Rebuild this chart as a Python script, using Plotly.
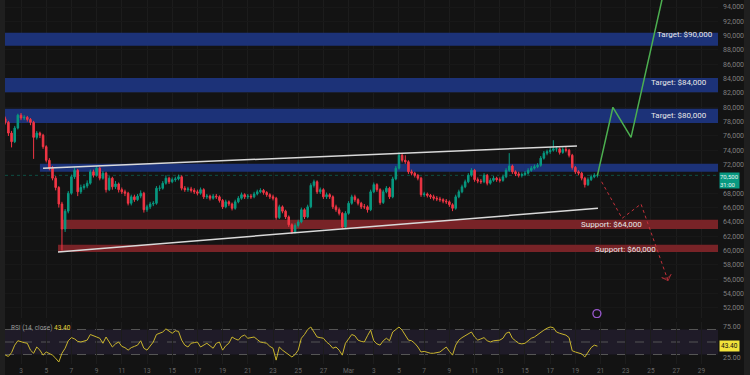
import pandas as pd
import plotly.graph_objects as go

# ---------------- data (prices in thousands of USD) ----------------
start_time = "2026-02-01 18:00"
candle_freq = "6h"
first_open = 78.4
closes = [77.9, 76.4, 75.2, 77.1, 78.9, 78.5, 78.6, 78.3, 77.9, 75.8,
          76.4, 76.1, 74.5, 72.6, 71.5, 70.1, 68.8, 66.5, 63.0, 65.5,
          68.0, 70.3, 71.2, 68.2, 68.8, 69.0, 69.4, 71.0, 70.5, 71.5,
          70.1, 70.8, 68.5, 70.1, 68.9, 69.3, 68.5, 68.2, 68.0, 66.6,
          67.5, 67.1, 67.6, 68.0, 65.7, 66.1, 66.5, 66.6, 68.7, 68.7,
          69.4, 70.1, 69.6, 69.9, 70.0, 70.3, 68.7, 68.5, 68.6, 68.4,
          68.2, 68.0, 68.5, 67.5, 67.6, 67.3, 67.6, 67.5, 67.0, 66.1,
          66.8, 66.5, 65.9, 66.8, 67.3, 67.8, 67.5, 67.6, 67.5, 67.9,
          68.2, 68.4, 68.1, 67.8, 67.5, 67.3, 64.6, 66.1, 65.5, 64.7,
          63.6, 62.6, 63.5, 64.0, 65.7, 64.7, 66.1, 69.1, 69.6, 68.2,
          68.5, 67.5, 67.8, 67.5, 66.1, 65.7, 65.2, 63.3, 65.2, 66.6,
          67.5, 67.1, 66.6, 66.1, 66.1, 65.7, 68.2, 69.2, 68.5, 66.7,
          68.2, 68.7, 67.5, 70.0, 71.5, 73.3, 72.6, 72.4, 71.0, 70.8,
          70.5, 70.1, 67.8, 67.9, 67.7, 67.5, 67.3, 67.2, 67.1, 66.9,
          66.8, 66.4, 65.9, 67.5, 68.2, 68.9, 69.6, 70.5, 71.2, 69.9,
          69.7, 69.6, 70.5, 69.4, 69.8, 70.1, 69.9, 69.8, 70.3, 71.2,
          71.8, 71.0, 70.7, 70.5, 70.6, 70.8, 71.2, 71.5, 71.7, 71.9,
          72.9, 73.6, 73.8, 74.0, 74.2, 74.2, 73.7, 74.1, 74.0, 73.3,
          71.6, 71.0, 70.8, 70.1, 69.2, 69.9, 70.3, 70.5, 70.5]
highs = [78.7, 78.1, 76.7, 77.4, 79.1, 79.2, 78.9, 78.8, 78.5, 78.1,
         76.7, 76.6, 76.3, 74.7, 72.9, 71.8, 70.4, 69.0, 66.8, 65.8,
         68.3, 70.6, 71.6, 71.4, 69.2, 69.3, 69.8, 71.3, 71.3, 71.8,
         71.7, 71.1, 71.0, 70.4, 70.3, 69.7, 69.5, 68.8, 68.5, 68.2,
         67.8, 67.8, 67.9, 68.4, 68.2, 66.4, 66.8, 66.9, 69.0, 69.1,
         69.7, 70.5, 70.3, 70.2, 70.3, 70.6, 70.5, 69.0, 68.9, 68.9,
         68.7, 68.5, 68.8, 68.7, 67.9, 67.8, 67.9, 67.9, 67.7, 67.2,
         67.1, 67.0, 66.7, 67.1, 67.6, 68.1, 68.0, 67.9, 67.9, 68.2,
         68.5, 68.7, 68.6, 68.3, 68.0, 67.8, 67.5, 66.4, 66.3, 65.7,
         64.9, 63.8, 63.8, 64.3, 66.0, 65.9, 66.4, 69.4, 69.9, 69.8,
         68.8, 68.7, 68.1, 68.0, 67.7, 66.4, 66.0, 65.4, 65.5, 66.9,
         67.8, 67.8, 67.3, 66.8, 66.5, 66.3, 68.5, 69.5, 69.4, 68.7,
         68.5, 69.0, 68.9, 70.3, 71.8, 73.7, 73.5, 73.3, 72.6, 71.3,
         71.0, 70.7, 70.3, 68.2, 68.1, 67.9, 67.8, 67.6, 67.5, 67.3,
         67.2, 67.0, 66.6, 67.8, 68.5, 69.2, 69.9, 70.8, 71.5, 71.4,
         70.2, 70.0, 70.8, 70.7, 70.1, 70.4, 70.3, 70.2, 70.6, 71.5,
         73.6, 72.0, 71.2, 71.0, 70.9, 71.1, 71.5, 71.8, 72.0, 72.2,
         73.2, 73.9, 74.1, 74.4, 75.4, 74.6, 74.4, 74.4, 74.5, 74.2,
         73.5, 71.8, 71.2, 71.0, 70.3, 70.2, 70.6, 70.8, 70.7]
lows = [77.6, 76.0, 74.4, 75.0, 76.9, 78.2, 78.2, 78.0, 77.5, 72.8,
        75.5, 75.7, 74.2, 72.3, 71.2, 69.8, 68.4, 66.0, 60.0, 62.6,
        65.2, 67.8, 70.0, 67.6, 67.9, 68.5, 68.7, 69.2, 70.2, 70.3,
        69.8, 69.9, 68.1, 68.3, 68.5, 68.6, 68.1, 67.9, 67.6, 66.3,
        66.3, 66.8, 66.9, 67.3, 65.3, 65.4, 65.8, 66.2, 66.4, 68.3,
        68.5, 69.2, 69.3, 69.4, 69.6, 69.8, 68.4, 68.2, 68.2, 68.1,
        67.9, 67.7, 67.8, 67.2, 67.2, 67.0, 67.1, 67.2, 66.7, 65.8,
        65.9, 66.2, 65.6, 65.7, 66.6, 67.1, 67.2, 67.2, 67.2, 67.3,
        67.7, 68.0, 67.8, 67.5, 67.2, 67.0, 64.3, 64.4, 65.2, 64.4,
        63.3, 62.3, 62.4, 63.2, 63.8, 64.4, 64.5, 65.9, 68.8, 67.9,
        67.9, 67.2, 67.2, 67.2, 65.8, 65.4, 64.9, 63.0, 63.1, 65.0,
        66.4, 66.8, 66.3, 65.8, 65.8, 65.3, 65.5, 68.0, 68.2, 66.4,
        66.5, 68.0, 67.2, 67.3, 69.8, 71.3, 72.3, 72.1, 70.7, 70.5,
        70.2, 69.8, 67.5, 67.5, 67.4, 67.2, 67.0, 66.9, 66.8, 66.6,
        66.5, 66.1, 65.5, 65.7, 67.3, 68.0, 68.7, 69.4, 70.3, 69.6,
        69.4, 69.3, 69.4, 69.1, 69.2, 69.6, 69.6, 69.5, 69.6, 70.1,
        71.0, 70.7, 70.4, 70.2, 70.2, 70.4, 70.6, 71.0, 71.3, 71.5,
        71.7, 72.7, 73.3, 73.5, 73.8, 73.8, 73.4, 73.5, 73.7, 73.0,
        71.3, 70.7, 70.5, 69.8, 68.8, 69.0, 69.7, 70.1, 70.2]
rsi = [29, 27, 33, 45, 52, 50, 49, 48, 37, 32,
       42, 37, 29, 34, 32, 29, 24, 18, 32, 40,
       52, 57, 55, 51, 50, 51, 53, 62, 60, 58,
       56, 48, 58, 50, 42, 47, 50, 43, 41, 37,
       41, 43, 45, 52, 40, 37, 44, 50, 62, 64,
       66, 71, 67, 64, 68, 67, 53, 45, 42, 48,
       49, 50, 42, 45, 48, 44, 40, 48, 50, 37,
       44, 48, 58, 55, 53, 59, 61, 56, 57, 58,
       54, 50, 49, 48, 43, 40, 21, 42, 37, 33,
       29, 26, 30, 37, 56, 62, 70, 74, 66, 58,
       57, 56, 50, 46, 40, 42, 37, 29, 48, 56,
       62, 60, 53, 51, 50, 60, 69, 52, 47, 45,
       52, 56, 52, 66, 70, 74, 69, 62, 53, 52,
       48, 42, 34, 35, 33, 32, 32, 33, 34, 38,
       42, 35, 29, 45, 53, 57, 60, 63, 66, 58,
       53, 55, 57, 52, 50, 52, 53, 53, 56, 64,
       66, 56, 52, 48, 47, 48, 52, 56, 58, 62,
       66, 69, 72, 74, 73, 66, 64, 63, 61, 57,
       36, 34, 33, 31, 26, 34, 41, 45, 43.4]

# zones
zone_low = [88.6, 82.1, 77.8, 71.0, 63.0, 59.8]
zone_high = [90.4, 84.1, 79.8, 72.1, 64.3, 60.8]
zone_start = ["2026-02-01 17:30", "2026-02-01 17:30", "2026-02-01 17:30",
              "2026-02-04 12:00", "2026-02-06 06:00", "2026-02-05 22:30"]
zone_kind = ["target", "target", "target", "target", "support", "support"]

# zone labels
label_text = ["Target: $90,000", "Target: $84,000", "Target: $80,000",
              "Support: $64,000", "Support: $60,000"]
label_time = ["2026-03-30 02:00", "2026-03-29 14:00", "2026-03-29 14:00",
              "2026-03-21 21:30", "2026-03-22 23:30"]
label_price = [90.1, 83.4, 78.9, 63.6, 60.2]
label_anchor = ["right", "right", "right", "center", "center"]

# trend lines
upper_times = ["2026-02-04 18:00", "2026-03-19 03:00"]
upper_prices = [71.5, 74.6]
lower_times = ["2026-02-05 22:30", "2026-03-20 19:00"]
lower_prices = [59.8, 65.9]

# projections
bull_times = ["2026-03-20 18:00", "2026-03-21 23:30", "2026-03-23 10:00", "2026-03-26 05:30"]
bull_prices = [70.5, 80.0, 75.8, 97.8]
bear_times = ["2026-03-21 02:00", "2026-03-22 17:00", "2026-03-24 05:00", "2026-03-26 08:30"]
bear_prices = [69.6, 64.5, 66.5, 55.8]

last_price = 70.5
last_rsi = 43.4
countdown = "31:00"

x_start = "2026-02-01 17:30"
x_end = "2026-03-30 07:40"
price_range = [50.584, 94.977]
rsi_range = [14.8, 82]

xtick_dates = ["2026-02-03", "2026-02-05", "2026-02-07", "2026-02-09", "2026-02-11",
               "2026-02-13", "2026-02-15", "2026-02-17", "2026-02-19", "2026-02-21",
               "2026-02-23", "2026-02-25", "2026-02-27", "2026-03-01", "2026-03-03",
               "2026-03-05", "2026-03-07", "2026-03-09", "2026-03-11", "2026-03-13",
               "2026-03-15", "2026-03-17", "2026-03-19", "2026-03-21", "2026-03-23",
               "2026-03-25", "2026-03-27", "2026-03-29"]
xtick_text = ["3", "5", "7", "9", "11", "13", "15", "17", "19", "21", "23", "25", "27",
              "Mar", "3", "5", "7", "9", "11", "13", "15", "17", "19", "21", "23", "25",
              "27", "29"]
# 70,000 sits under the current-price tag in the reference, so it is not labelled
ytick_vals = [52, 54, 56, 58, 60, 62, 64, 66, 68, 72, 74, 76, 78, 80, 82, 84,
              86, 88, 90, 92, 94]

K = 1000
# ---------------- figure ----------------
BG = "#131313"
GRID = "#1c1c1c"
UP = "#089981"
DOWN = "#f23645"
FONT = "Roboto"

times = pd.date_range(start_time, periods=len(closes), freq=candle_freq)
opens = [first_open] + closes[:-1]

fig = go.Figure()

fig.add_trace(go.Candlestick(
    x=times,
    open=[v * K for v in opens], high=[v * K for v in highs],
    low=[v * K for v in lows], close=[v * K for v in closes],
    increasing=dict(line=dict(color=UP, width=1), fillcolor=UP),
    decreasing=dict(line=dict(color=DOWN, width=1), fillcolor=DOWN),
    whiskerwidth=0, xaxis="x", yaxis="y", hoverinfo="skip"))

for t, p in ((upper_times, upper_prices), (lower_times, lower_prices)):
    fig.add_trace(go.Scatter(x=t, y=[v * K for v in p], mode="lines",
                             line=dict(color="#d9d9d9", width=1.5),
                             xaxis="x", yaxis="y", hoverinfo="skip"))

fig.add_trace(go.Scatter(x=bull_times, y=[v * K for v in bull_prices], mode="lines",
                         line=dict(color="#4caf50", width=1.5),
                         xaxis="x", yaxis="y", hoverinfo="skip"))
fig.add_trace(go.Scatter(x=bear_times, y=[v * K for v in bear_prices], mode="lines+markers",
                         line=dict(color="#c2303a", width=1, dash="dot"),
                         marker=dict(symbol=["circle", "circle", "circle", "arrow-wide-open"],
                                     size=[0, 0, 0, 7], angleref="previous",
                                     color="#c2303a", line=dict(color="#c2303a", width=1)),
                         xaxis="x", yaxis="y", hoverinfo="skip"))

fig.add_trace(go.Scatter(x=times, y=rsi, mode="lines",
                         line=dict(color="#c9b52c", width=1),
                         xaxis="x", yaxis="y2", hoverinfo="skip"))

# purple marker icon
fig.add_trace(go.Scatter(x=["2026-03-20 17:00"], y=[51.2 * K], mode="markers",
                         marker=dict(symbol="circle-open", size=8, color="#9b59d0",
                                     line=dict(width=1.3, color="#9b59d0")),
                         xaxis="x", yaxis="y", hoverinfo="skip"))

shapes = []
for lo, hi, st, kind in zip(zone_low, zone_high, zone_start, zone_kind):
    shapes.append(dict(type="rect", xref="x", yref="y", x0=st, x1=x_end,
                       y0=lo * K, y1=hi * K, layer="between", line=dict(width=0),
                       fillcolor="#1c3278" if kind == "target" else "#782327"))
# last price line
shapes.append(dict(type="line", xref="paper", yref="y", x0=0, x1=1,
                   y0=last_price * K, y1=last_price * K, layer="between",
                   line=dict(color="rgba(8,153,129,0.45)", width=1, dash="dot")))
# RSI band and levels
shapes.append(dict(type="rect", xref="paper", yref="y2", x0=0, x1=1, y0=30, y1=70,
                   fillcolor="rgba(126,87,194,0.12)", line=dict(width=0), layer="below"))
for lv in (70, 50, 30):
    shapes.append(dict(type="line", xref="paper", yref="y2", x0=0, x1=1, y0=lv, y1=lv,
                       line=dict(color="#555555", width=1, dash="dash"), layer="between"))
# frame strips
PX = 1 / 713
shapes.append(dict(type="rect", xref="paper", yref="paper", x0=-5 * PX, x1=0,
                   y0=-11 / 364, y1=1, fillcolor="#1f1f1f", line=dict(width=0)))
shapes.append(dict(type="rect", xref="paper", yref="paper", x0=739 * PX, x1=745 * PX,
                   y0=-11 / 364, y1=1, fillcolor="#1f1f1f", line=dict(width=0)))

annotations = []
for txt, t, p, anc in zip(label_text, label_time, label_price, label_anchor):
    annotations.append(dict(x=t, y=p * K, xref="x", yref="y", text=txt, showarrow=False,
                            xanchor=anc, yanchor="middle",
                            font=dict(family=FONT, size=8, color="#e8e8e8")))
annotations.append(dict(x=1 + 1 * PX, y=(last_price + 0.45) * K, xref="paper", yref="y",
                        text=f"{last_price * K:,.0f}<br>{countdown}", showarrow=False,
                        xanchor="left", yanchor="top", align="left",
                        bgcolor=UP, borderpad=0,
                        font=dict(family=FONT, size=6, color="#e8f5f2")))
annotations.append(dict(x=1 + 1 * PX, y=last_rsi, xref="paper", yref="y2",
                        text=f"{last_rsi:.2f}", showarrow=False,
                        xanchor="left", yanchor="middle", bgcolor="#f2e33a", borderpad=1,
                        font=dict(family=FONT, size=6.5, color="#111111")))
annotations.append(dict(x=4 * PX, y=73, xref="paper", yref="y2",
                        text=f"RSI (14, close) <span style='color:#e8d43a'>{last_rsi:.2f}</span>",
                        showarrow=False, xanchor="left", yanchor="middle",
                        font=dict(family=FONT, size=6.5, color="#9a9a9a")))

fig.update_layout(
    width=750, height=375,
    margin=dict(l=5, r=32, t=0, b=11),
    paper_bgcolor=BG, plot_bgcolor=BG,
    showlegend=False,
    shapes=shapes, annotations=annotations,
    xaxis=dict(type="date", range=[x_start, x_end], anchor="y2",
               tickvals=xtick_dates, ticktext=xtick_text, ticks="",
               showgrid=True, gridcolor=GRID, gridwidth=1, zeroline=False, showline=False,
               tickfont=dict(family=FONT, size=6.5, color="#666666"),
               ticklabelstandoff=1, rangeslider=dict(visible=False)),
    yaxis=dict(domain=[46 / 364, 1], range=[v * K for v in price_range], side="right",
               tickvals=[v * K for v in ytick_vals], tickformat=",.0f", ticks="",
               showgrid=True, gridcolor="#181818", zeroline=False, showline=False,
               tickfont=dict(family=FONT, size=7, color="#7f7f7f"),
               ticklabelstandoff=4),
    yaxis2=dict(domain=[0, 42 / 364], range=rsi_range, side="right",
                tickvals=[25, 75], ticktext=["25.00", "75.00"], ticks="",
                showgrid=False, zeroline=False, showline=False,
                tickfont=dict(family=FONT, size=7, color="#7f7f7f"),
                ticklabelstandoff=4),
)

fig.write_html("out.html", config={"displayModeBar": False},
               post_script="document.body.style.margin='0';document.body.style.padding='0';"
                           "document.body.style.background='#131313';"
                           "document.body.style.overflow='hidden';")
